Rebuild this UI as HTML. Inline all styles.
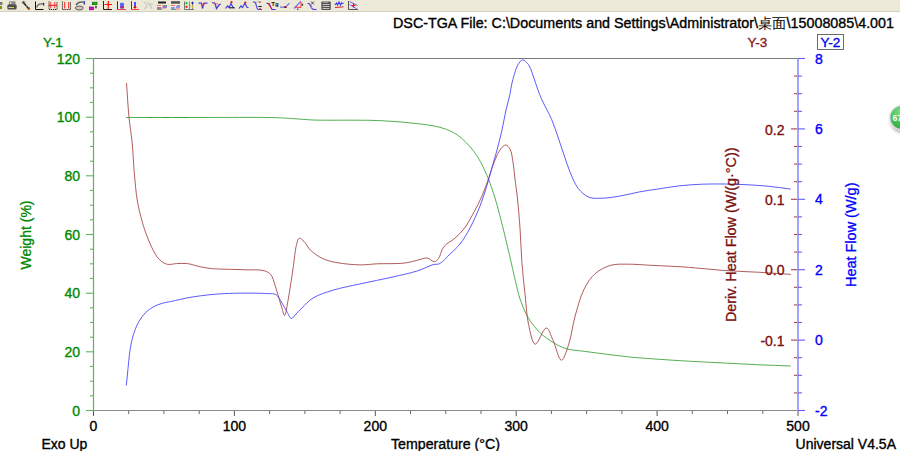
<!DOCTYPE html>
<html><head><meta charset="utf-8"><style>
html,body{margin:0;padding:0;background:#fff;width:900px;height:451px;overflow:hidden}
svg{display:block;font-family:"Liberation Sans",sans-serif}
</style></head><body>
<svg width="900" height="451" viewBox="0 0 900 451">
<rect x="0" y="0" width="900" height="12" fill="#ECE9D8"/>
<rect x="0" y="11" width="900" height="1" fill="#D6D2C2"/>
<rect x="0" y="2" width="2.4" height="3" fill="#777"/><rect x="0" y="6" width="2" height="3" fill="#8a8a10"/>
<rect x="9" y="1.3" width="6.5" height="3.2" fill="#8a8a8a"/><rect x="10" y="2" width="1.2" height="2" fill="#ddd"/>
<rect x="7.3" y="4.3" width="9.4" height="5.2" rx="1.6" fill="#505050"/><rect x="8.5" y="7" width="5.5" height="1" fill="#c8c8c0"/><rect x="11" y="7" width="2" height="1" fill="#e0e000"/>
<line x1="23" y1="2" x2="28.5" y2="8.5" stroke="#222" stroke-width="1.6"/><circle cx="23.5" cy="2.5" r="1.2" fill="none" stroke="#666" stroke-width="0.8"/><circle cx="28.8" cy="8.6" r="1.4" fill="#b05010"/><circle cx="26.4" cy="6" r="0.5" fill="#fff"/>
<path d="M35.5,1.5 V9.5 H43.5" fill="none" stroke="#111" stroke-width="1"/><path d="M36.5,7.5 Q38,4 40,4 L43,3.8" fill="none" stroke="#777" stroke-width="1.4"/><rect x="43" y="2.8" width="1.2" height="2.8" fill="#2020a0"/>
<path d="M49,1.5 V9.5 H57 V1.5" fill="none" stroke="#222" stroke-width="1" stroke-dasharray="1.2,0.8"/><rect x="48.5" y="4.8" width="8.5" height="1.1" fill="#ff1010"/><rect x="50.2" y="2" width="1" height="6.3" fill="#ff4040"/><rect x="54.2" y="2" width="1" height="6.3" fill="#ff4040"/>
<path d="M62.5,1.5 V9.5 H70.5 V1.5" fill="none" stroke="#222" stroke-width="1" stroke-dasharray="1.2,0.8"/><rect x="64.2" y="2" width="1" height="6.5" fill="#ff2020"/><rect x="68.2" y="2" width="1" height="6.5" fill="#ff2020"/>
<path d="M76,5 Q78,1.5 83,2" fill="none" stroke="#666" stroke-width="1.6"/><rect x="83.5" y="1" width="1.4" height="3.5" fill="#2a2aa0"/><ellipse cx="79.3" cy="8" rx="4" ry="2" fill="#d8c0c0" stroke="#555" stroke-width="0.9"/>
<rect x="92.5" y="2.2" width="4.5" height="2.5" fill="#10c010" stroke="#005000" stroke-width="0.6"/><rect x="89.3" y="7" width="4.3" height="2.8" fill="#e010c0" stroke="#600060" stroke-width="0.6"/><rect x="95.3" y="5.8" width="1.3" height="2.5" fill="#222"/>
<path d="M103.5,1 V9.5 H112" fill="none" stroke="#222" stroke-width="1"/><path d="M104.5,4.5 H112 M108.3,1 V9" stroke="#ff1010" stroke-width="1.2"/><circle cx="108.3" cy="4.5" r="1" fill="#ff1010"/>
<rect x="117" y="1.2" width="1" height="8" fill="#333"/><rect x="120" y="2.8" width="4" height="6" rx="1" fill="#6060ff"/><rect x="120.8" y="6.5" width="2.6" height="1.4" fill="#e01010"/><rect x="117" y="9.2" width="9" height="0.8" fill="#ff2020"/>
<rect x="131" y="1.2" width="1" height="8" fill="#444"/><rect x="134" y="2" width="2" height="6" fill="#5050ff"/><circle cx="135" cy="7.3" r="1.3" fill="#e01010"/><rect x="131" y="9.2" width="8" height="0.8" fill="#ff2020"/>
<path d="M144,2.5 Q147,2.5 147,5.5 Q147,8.5 144,8.5 M148,2 Q150,5 152,9 M149.5,5 Q151,3 153,4.5" fill="none" stroke="#c0c0b8" stroke-width="1"/>
<rect x="158" y="1.5" width="8" height="2" fill="#222"/><path d="M157,5.5 H161 M157,8 H166 M162,6 H167" stroke="#ff6060" stroke-width="0.9"/><path d="M157,8 H161 M163,7 H167" stroke="#4040ff" stroke-width="1"/><path d="M157,9.5 H162 M163,5.5 H167" stroke="#60b060" stroke-width="1"/>
<rect x="171" y="1.2" width="9" height="2.5" fill="#555"/><path d="M171,5.5 H175 M176,9 H180" stroke="#ff6060" stroke-width="0.9"/><path d="M171,8 H175 M176,7 H180" stroke="#4040ff" stroke-width="1"/><path d="M171,9.5 H176 M177,5.5 H180" stroke="#60b060" stroke-width="1"/>
<path d="M184.5,1.5 V9.5 H194" fill="none" stroke="#777" stroke-width="1"/><rect x="189.2" y="1.5" width="0.7" height="8" fill="#666"/><rect x="192.2" y="1.5" width="0.7" height="8" fill="#666"/><circle cx="186.5" cy="3.2" r="1.1" fill="#10c010"/><circle cx="186.5" cy="6.8" r="1.1" fill="#e01010"/><circle cx="189.5" cy="5.5" r="1" fill="#a0a000"/><circle cx="192.5" cy="3" r="1.1" fill="#1010d0"/><circle cx="192.5" cy="7" r="1.1" fill="#d0c020"/>
<path d="M198.5,3.2 H201.5 L202.5,8.5 L204,3.2 H207.5" fill="none" stroke="#4040e0" stroke-width="1.3"/><path d="M201.5,3 L203.2,6 L204.5,3" fill="none" stroke="#ff3030" stroke-width="0.9"/>
<path d="M212,2.5 L215,3.5 L216.5,8.5 L219,5 L220.8,4" fill="none" stroke="#4040e0" stroke-width="1.3"/><path d="M213,2.3 L216,3.5 L218.5,4.5" fill="none" stroke="#ff5050" stroke-width="0.9"/>
<path d="M225.5,8.5 L227.5,6 L229,7.5 L231,3.5 L233,7.5 L234.5,8" fill="none" stroke="#4040e0" stroke-width="1.2"/><rect x="229" y="7.3" width="5.5" height="1" fill="#111"/><circle cx="231.5" cy="2.2" r="1.1" fill="#ff1010"/>
<path d="M239,8.5 L241,6 L242.5,7.5 L245,3 L247,7.5 L248.5,7.5" fill="none" stroke="#4040e0" stroke-width="1.2"/><circle cx="245.3" cy="2.5" r="1.1" fill="#ff1010"/>
<path d="M253,1.8 L255.5,2.5 L257,8 L258,9.5 L262,9.5" fill="none" stroke="#5050f0" stroke-width="1.2"/><rect x="256.5" y="1.2" width="5" height="1" fill="#bbb"/><rect x="258.3" y="6" width="3.5" height="1" fill="#222"/><circle cx="259.8" cy="2.3" r="0.8" fill="#ff2020"/><circle cx="260" cy="8.6" r="0.8" fill="#ff2020"/>
<path d="M266.5,3.5 L269,3.5 L272,9.5 L275.5,9.5" fill="none" stroke="#3030e0" stroke-width="1.2"/><path d="M267.5,2.5 L271,8.5" stroke="#ff3030" stroke-width="1"/><text x="271.3" y="6" font-size="6" font-weight="bold" fill="#111">Tg</text>
<path d="M280,7.2 H285.5 L289.5,3.2" fill="none" stroke="#7070e0" stroke-width="1.2"/><path d="M284,7 L287,7.5" stroke="#ff3030" stroke-width="0.8"/><circle cx="285.3" cy="7.2" r="0.9" fill="#222"/>
<path d="M294,8.5 L301,1.2" stroke="#7070f0" stroke-width="1.2"/><path d="M295,7.3 H301 V2" fill="none" stroke="#ff3030" stroke-width="1"/><rect x="297" y="8.5" width="1.4" height="1.4" fill="#444"/><rect x="301.8" y="3.8" width="1.3" height="1.8" fill="#222"/>
<path d="M307.5,3.2 L309.5,4 L312,8.5 L313.5,9.5 L316.5,9.5" fill="none" stroke="#4040e8" stroke-width="1.2"/><path d="M311,1.5 L314,4.5 M314,1.5 L311,4.5" stroke="#222" stroke-width="0.8"/><path d="M311.3,5 L311.5,8.5" stroke="#ff6060" stroke-width="0.8"/>
<rect x="321.3" y="1.5" width="9.5" height="8.5" rx="1" fill="#555"/><rect x="322.5" y="4" width="7" height="0.8" fill="#ddd"/><rect x="322.5" y="6" width="7" height="0.8" fill="#ddd"/><rect x="322.5" y="8" width="7" height="0.8" fill="#ddd"/><rect x="323" y="2.2" width="5" height="0.8" fill="#aaa"/>
<path d="M335,5 L336.5,3 L337.5,5 L339,2 L340.5,5 L341.5,3 L343.5,3.5" fill="none" stroke="#3030f0" stroke-width="1.1"/><path d="M335,7.5 L343.5,6.8" stroke="#e02020" stroke-width="1"/>
<path d="M348.5,1 V9.5 H358" fill="none" stroke="#555" stroke-width="1"/><path d="M349.5,1.5 L357.5,5.5 M349.5,4.5 L357,9" stroke="#6060f0" stroke-width="0.9"/><path d="M353.5,3.5 V7.5 M351.5,5.5 H355.5" stroke="#ff1010" stroke-width="1.2"/>
<line x1="93" y1="58.5" x2="798" y2="58.5" stroke="#7a7a7a" stroke-width="1"/>
<line x1="93" y1="410.5" x2="798" y2="410.5" stroke="#8a8a8a" stroke-width="1.2"/>
<line x1="93.5" y1="58" x2="93.5" y2="411" stroke="#5fb35f" stroke-width="1.2"/>
<line x1="86" y1="410.5" x2="93" y2="410.5" stroke="#5fb35f" stroke-width="1.1"/>
<line x1="90" y1="395.8" x2="93" y2="395.8" stroke="#5fb35f" stroke-width="1.1"/>
<line x1="90" y1="381.2" x2="93" y2="381.2" stroke="#5fb35f" stroke-width="1.1"/>
<line x1="90" y1="366.5" x2="93" y2="366.5" stroke="#5fb35f" stroke-width="1.1"/>
<line x1="86" y1="351.8" x2="93" y2="351.8" stroke="#5fb35f" stroke-width="1.1"/>
<line x1="90" y1="337.2" x2="93" y2="337.2" stroke="#5fb35f" stroke-width="1.1"/>
<line x1="90" y1="322.5" x2="93" y2="322.5" stroke="#5fb35f" stroke-width="1.1"/>
<line x1="90" y1="307.8" x2="93" y2="307.8" stroke="#5fb35f" stroke-width="1.1"/>
<line x1="86" y1="293.2" x2="93" y2="293.2" stroke="#5fb35f" stroke-width="1.1"/>
<line x1="90" y1="278.5" x2="93" y2="278.5" stroke="#5fb35f" stroke-width="1.1"/>
<line x1="90" y1="263.8" x2="93" y2="263.8" stroke="#5fb35f" stroke-width="1.1"/>
<line x1="90" y1="249.2" x2="93" y2="249.2" stroke="#5fb35f" stroke-width="1.1"/>
<line x1="86" y1="234.5" x2="93" y2="234.5" stroke="#5fb35f" stroke-width="1.1"/>
<line x1="90" y1="219.8" x2="93" y2="219.8" stroke="#5fb35f" stroke-width="1.1"/>
<line x1="90" y1="205.2" x2="93" y2="205.2" stroke="#5fb35f" stroke-width="1.1"/>
<line x1="90" y1="190.5" x2="93" y2="190.5" stroke="#5fb35f" stroke-width="1.1"/>
<line x1="86" y1="175.8" x2="93" y2="175.8" stroke="#5fb35f" stroke-width="1.1"/>
<line x1="90" y1="161.2" x2="93" y2="161.2" stroke="#5fb35f" stroke-width="1.1"/>
<line x1="90" y1="146.5" x2="93" y2="146.5" stroke="#5fb35f" stroke-width="1.1"/>
<line x1="90" y1="131.8" x2="93" y2="131.8" stroke="#5fb35f" stroke-width="1.1"/>
<line x1="86" y1="117.2" x2="93" y2="117.2" stroke="#5fb35f" stroke-width="1.1"/>
<line x1="90" y1="102.5" x2="93" y2="102.5" stroke="#5fb35f" stroke-width="1.1"/>
<line x1="90" y1="87.8" x2="93" y2="87.8" stroke="#5fb35f" stroke-width="1.1"/>
<line x1="90" y1="73.2" x2="93" y2="73.2" stroke="#5fb35f" stroke-width="1.1"/>
<line x1="86" y1="58.5" x2="93" y2="58.5" stroke="#5fb35f" stroke-width="1.1"/>
<line x1="93.5" y1="411" x2="93.5" y2="416" stroke="#555" stroke-width="1"/>
<line x1="128.7" y1="411" x2="128.7" y2="414" stroke="#666" stroke-width="1"/>
<line x1="163.9" y1="411" x2="163.9" y2="414" stroke="#666" stroke-width="1"/>
<line x1="199.2" y1="411" x2="199.2" y2="414" stroke="#666" stroke-width="1"/>
<line x1="234.4" y1="411" x2="234.4" y2="416" stroke="#555" stroke-width="1"/>
<line x1="269.6" y1="411" x2="269.6" y2="414" stroke="#666" stroke-width="1"/>
<line x1="304.9" y1="411" x2="304.9" y2="414" stroke="#666" stroke-width="1"/>
<line x1="340.1" y1="411" x2="340.1" y2="414" stroke="#666" stroke-width="1"/>
<line x1="375.3" y1="411" x2="375.3" y2="416" stroke="#555" stroke-width="1"/>
<line x1="410.5" y1="411" x2="410.5" y2="414" stroke="#666" stroke-width="1"/>
<line x1="445.8" y1="411" x2="445.8" y2="414" stroke="#666" stroke-width="1"/>
<line x1="481.0" y1="411" x2="481.0" y2="414" stroke="#666" stroke-width="1"/>
<line x1="516.2" y1="411" x2="516.2" y2="416" stroke="#555" stroke-width="1"/>
<line x1="551.4" y1="411" x2="551.4" y2="414" stroke="#666" stroke-width="1"/>
<line x1="586.6" y1="411" x2="586.6" y2="414" stroke="#666" stroke-width="1"/>
<line x1="621.9" y1="411" x2="621.9" y2="414" stroke="#666" stroke-width="1"/>
<line x1="657.1" y1="411" x2="657.1" y2="416" stroke="#555" stroke-width="1"/>
<line x1="692.3" y1="411" x2="692.3" y2="414" stroke="#666" stroke-width="1"/>
<line x1="727.5" y1="411" x2="727.5" y2="414" stroke="#666" stroke-width="1"/>
<line x1="762.8" y1="411" x2="762.8" y2="414" stroke="#666" stroke-width="1"/>
<line x1="798.0" y1="411" x2="798.0" y2="416" stroke="#555" stroke-width="1"/>
<rect x="797" y="58" width="2" height="353" fill="#a4a4ff"/>
<line x1="798" y1="410.5" x2="805" y2="410.5" stroke="#5a5aff" stroke-width="1.1"/>
<line x1="798" y1="392.9" x2="802" y2="392.9" stroke="#5a5aff" stroke-width="1.1"/>
<line x1="794" y1="392.9" x2="797" y2="392.9" stroke="#a84040" stroke-width="1.1"/>
<line x1="798" y1="375.3" x2="802" y2="375.3" stroke="#5a5aff" stroke-width="1.1"/>
<line x1="794" y1="375.3" x2="797" y2="375.3" stroke="#a84040" stroke-width="1.1"/>
<line x1="798" y1="357.7" x2="802" y2="357.7" stroke="#5a5aff" stroke-width="1.1"/>
<line x1="794" y1="357.7" x2="797" y2="357.7" stroke="#a84040" stroke-width="1.1"/>
<line x1="798" y1="340.1" x2="805" y2="340.1" stroke="#5a5aff" stroke-width="1.1"/>
<line x1="791" y1="340.1" x2="797" y2="340.1" stroke="#a84040" stroke-width="1.1"/>
<line x1="798" y1="322.5" x2="802" y2="322.5" stroke="#5a5aff" stroke-width="1.1"/>
<line x1="794" y1="322.5" x2="797" y2="322.5" stroke="#a84040" stroke-width="1.1"/>
<line x1="798" y1="304.9" x2="802" y2="304.9" stroke="#5a5aff" stroke-width="1.1"/>
<line x1="794" y1="304.9" x2="797" y2="304.9" stroke="#a84040" stroke-width="1.1"/>
<line x1="798" y1="287.3" x2="802" y2="287.3" stroke="#5a5aff" stroke-width="1.1"/>
<line x1="794" y1="287.3" x2="797" y2="287.3" stroke="#a84040" stroke-width="1.1"/>
<line x1="798" y1="269.7" x2="805" y2="269.7" stroke="#5a5aff" stroke-width="1.1"/>
<line x1="791" y1="269.7" x2="797" y2="269.7" stroke="#a84040" stroke-width="1.1"/>
<line x1="798" y1="252.1" x2="802" y2="252.1" stroke="#5a5aff" stroke-width="1.1"/>
<line x1="794" y1="252.1" x2="797" y2="252.1" stroke="#a84040" stroke-width="1.1"/>
<line x1="798" y1="234.5" x2="802" y2="234.5" stroke="#5a5aff" stroke-width="1.1"/>
<line x1="794" y1="234.5" x2="797" y2="234.5" stroke="#a84040" stroke-width="1.1"/>
<line x1="798" y1="216.9" x2="802" y2="216.9" stroke="#5a5aff" stroke-width="1.1"/>
<line x1="794" y1="216.9" x2="797" y2="216.9" stroke="#a84040" stroke-width="1.1"/>
<line x1="798" y1="199.3" x2="805" y2="199.3" stroke="#5a5aff" stroke-width="1.1"/>
<line x1="791" y1="199.3" x2="797" y2="199.3" stroke="#a84040" stroke-width="1.1"/>
<line x1="798" y1="181.7" x2="802" y2="181.7" stroke="#5a5aff" stroke-width="1.1"/>
<line x1="794" y1="181.7" x2="797" y2="181.7" stroke="#a84040" stroke-width="1.1"/>
<line x1="798" y1="164.1" x2="802" y2="164.1" stroke="#5a5aff" stroke-width="1.1"/>
<line x1="794" y1="164.1" x2="797" y2="164.1" stroke="#a84040" stroke-width="1.1"/>
<line x1="798" y1="146.5" x2="802" y2="146.5" stroke="#5a5aff" stroke-width="1.1"/>
<line x1="794" y1="146.5" x2="797" y2="146.5" stroke="#a84040" stroke-width="1.1"/>
<line x1="798" y1="128.9" x2="805" y2="128.9" stroke="#5a5aff" stroke-width="1.1"/>
<line x1="791" y1="128.9" x2="797" y2="128.9" stroke="#a84040" stroke-width="1.1"/>
<line x1="798" y1="111.3" x2="802" y2="111.3" stroke="#5a5aff" stroke-width="1.1"/>
<line x1="794" y1="111.3" x2="797" y2="111.3" stroke="#a84040" stroke-width="1.1"/>
<line x1="798" y1="93.7" x2="802" y2="93.7" stroke="#5a5aff" stroke-width="1.1"/>
<line x1="794" y1="93.7" x2="797" y2="93.7" stroke="#a84040" stroke-width="1.1"/>
<line x1="798" y1="76.1" x2="802" y2="76.1" stroke="#5a5aff" stroke-width="1.1"/>
<line x1="794" y1="76.1" x2="797" y2="76.1" stroke="#a84040" stroke-width="1.1"/>
<line x1="798" y1="58.5" x2="805" y2="58.5" stroke="#5a5aff" stroke-width="1.1"/>
<line x1="147.6" y1="117.5" x2="152.9" y2="117.5" stroke="#1f7a1f" stroke-width="1"/>
<line x1="161.8" y1="117.5" x2="168.9" y2="117.5" stroke="#1f7a1f" stroke-width="1"/>
<line x1="173.8" y1="117.5" x2="188.9" y2="117.5" stroke="#1f7a1f" stroke-width="1"/>
<path d="M126.00,117.50 C150.67,117.50 175.42,117.48 200.00,117.50 C224.42,117.52 256.28,117.17 273.00,117.60 C281.76,117.82 286.34,118.20 293.00,118.60 C299.67,119.00 305.18,119.71 313.00,120.00 C324.04,120.41 341.95,120.12 353.00,120.20 C360.81,120.26 366.34,120.20 373.00,120.40 C379.67,120.60 386.34,120.93 393.00,121.40 C399.67,121.87 406.34,122.47 413.00,123.20 C419.67,123.93 427.04,124.63 433.00,125.80 C437.92,126.76 442.18,127.74 446.30,129.30 C450.14,130.76 453.68,132.48 457.00,134.70 C460.36,136.94 463.42,139.82 466.30,142.70 C469.18,145.58 471.86,148.69 474.30,152.00 C476.77,155.35 478.85,158.70 481.00,162.70 C483.54,167.43 486.04,173.06 488.30,178.70 C490.74,184.78 492.80,190.81 495.00,198.00 C497.71,206.86 500.62,218.62 503.00,228.00 C505.09,236.24 506.61,242.83 508.60,251.30 C510.98,261.43 514.21,276.09 516.30,284.70 C517.62,290.15 518.07,293.21 519.70,298.00 C521.73,303.95 524.63,311.63 528.10,317.50 C531.37,323.03 535.39,328.16 539.70,332.40 C543.74,336.38 548.42,339.63 553.00,342.40 C557.31,345.00 561.42,347.23 566.30,348.70 C571.69,350.33 577.84,350.43 584.10,351.30 C591.09,352.27 598.89,353.27 606.30,354.20 C613.72,355.13 621.17,356.15 628.60,356.90 C636.00,357.65 642.42,358.08 650.80,358.70 C661.73,359.50 676.19,360.48 688.60,361.20 C700.62,361.90 712.26,362.40 724.10,363.00 C735.96,363.60 748.23,364.29 759.70,364.80 C770.42,365.28 780.43,365.60 790.80,366.00" fill="none" stroke="#3ea63e" stroke-width="0.9"/>
<path d="M126.50,83.00 C127.33,94.43 127.96,106.80 129.00,117.30 C129.88,126.25 131.24,133.35 132.10,142.10 C133.06,151.87 133.38,163.12 134.30,173.20 C135.17,182.76 135.91,192.47 137.40,201.10 C138.71,208.72 140.60,216.08 142.40,222.40 C143.88,227.59 145.30,231.77 147.10,236.40 C148.93,241.11 151.04,246.29 153.30,250.40 C155.23,253.91 157.00,257.33 159.50,259.70 C161.75,261.83 164.47,263.64 167.30,264.30 C170.17,264.97 173.37,263.72 176.60,263.60 C180.09,263.47 183.78,263.14 187.50,263.60 C191.53,264.10 195.75,265.85 199.90,266.70 C204.02,267.54 207.82,268.26 212.30,268.70 C217.53,269.21 223.72,269.12 229.40,269.30 C235.05,269.48 240.59,269.57 246.30,269.80 C252.16,270.03 259.71,269.37 264.10,270.70 C267.01,271.58 269.04,272.63 270.80,274.70 C272.98,277.27 273.68,281.43 275.20,285.80 C277.32,291.89 280.11,302.58 281.90,308.00 C282.95,311.18 283.74,315.55 284.60,315.50 C285.80,315.43 286.86,306.45 288.00,300.50 C289.65,291.91 291.49,278.68 293.00,268.80 C294.32,260.14 295.06,249.79 296.60,244.40 C297.41,241.58 297.98,238.57 299.30,238.20 C300.51,237.86 302.43,239.98 304.00,241.50 C306.16,243.60 307.71,247.53 310.50,250.20 C313.78,253.35 318.46,256.63 322.90,258.70 C327.27,260.74 331.59,261.61 336.90,262.60 C343.64,263.86 353.04,264.78 360.20,264.90 C366.31,265.00 370.88,264.09 377.20,263.80 C385.14,263.44 396.73,263.99 404.10,263.10 C409.34,262.47 413.31,261.11 417.40,260.20 C420.92,259.42 424.25,257.62 427.20,258.00 C429.85,258.34 432.39,261.89 434.40,261.70 C436.01,261.55 437.29,260.08 438.50,258.50 C440.27,256.19 441.16,250.90 442.80,248.30 C443.99,246.41 445.20,245.18 446.70,243.90 C448.25,242.57 450.12,241.94 452.00,240.50 C454.46,238.62 457.61,235.80 460.00,233.30 C462.24,230.96 463.98,228.93 466.00,226.00 C468.64,222.18 471.40,216.86 474.00,212.00 C476.74,206.88 479.65,201.40 482.00,196.00 C484.30,190.73 485.95,185.64 488.00,180.00 C490.28,173.72 492.69,165.46 495.00,160.00 C496.68,156.03 498.00,152.62 500.00,150.00 C501.64,147.85 503.85,144.99 505.60,145.00 C507.16,145.01 508.85,147.04 510.00,149.00 C511.72,151.93 512.19,157.35 513.00,162.00 C513.91,167.26 514.29,173.18 515.00,179.00 C515.75,185.16 516.65,190.94 517.40,198.00 C518.34,206.85 519.27,217.65 520.00,228.00 C520.79,239.07 521.02,251.03 521.90,262.40 C522.76,273.62 524.04,285.07 525.20,295.80 C526.28,305.79 526.66,316.10 528.60,324.70 C530.23,331.93 532.20,343.79 535.20,344.20 C538.13,344.60 543.17,327.85 546.30,328.00 C548.94,328.13 550.76,335.57 553.00,340.20 C555.79,345.98 558.65,360.15 561.40,360.20 C563.84,360.25 566.51,350.79 568.60,344.70 C571.35,336.67 572.57,325.18 575.20,315.80 C577.76,306.66 580.29,296.56 584.10,289.10 C587.23,282.96 590.63,277.60 595.20,273.60 C599.60,269.75 605.25,266.87 610.80,265.30 C616.38,263.72 622.34,264.24 628.60,264.20 C635.59,264.16 642.42,264.87 650.80,265.30 C661.73,265.86 676.21,266.41 688.60,267.30 C700.63,268.16 712.25,269.67 724.10,270.50 C735.95,271.33 748.24,271.62 759.70,272.30 C770.42,272.93 780.43,273.70 790.80,274.40" fill="none" stroke="#a84848" stroke-width="0.9"/>
<path d="M126.30,385.50 C126.87,379.90 127.45,374.11 128.00,368.70 C128.51,363.64 128.87,358.71 129.50,354.00 C130.09,349.60 130.68,345.31 131.60,341.30 C132.45,337.61 133.45,334.17 134.70,330.80 C135.92,327.51 137.24,324.28 139.00,321.30 C140.77,318.31 142.85,315.35 145.30,312.90 C147.75,310.45 150.78,308.21 153.70,306.60 C156.40,305.11 159.24,304.25 162.10,303.40 C164.94,302.55 167.23,302.26 170.80,301.50 C176.50,300.29 184.94,298.16 193.00,296.90 C202.46,295.42 212.83,294.20 224.10,293.60 C237.46,292.89 259.29,293.05 268.00,293.60 C271.71,293.83 273.66,293.28 275.90,294.60 C278.45,296.11 280.16,300.14 282.00,303.00 C283.78,305.78 285.16,308.83 286.80,311.50 C288.33,313.98 289.85,318.34 291.50,318.50 C292.94,318.64 294.40,315.61 296.00,314.00 C297.84,312.15 299.59,310.22 301.90,308.00 C304.98,305.05 308.45,300.80 313.00,298.00 C318.45,294.64 325.77,292.44 333.00,290.20 C341.17,287.67 350.30,286.09 359.70,284.00 C370.18,281.67 382.78,279.25 393.00,276.90 C401.78,274.88 410.24,273.19 417.40,270.90 C423.25,269.03 428.83,265.86 433.00,264.70 C435.65,263.96 437.40,264.73 439.70,263.60 C443.01,261.98 446.62,257.26 450.00,254.00 C453.39,250.73 456.87,247.93 460.00,244.00 C463.61,239.46 466.85,233.87 470.00,228.00 C473.57,221.36 477.03,213.57 480.00,206.00 C483.04,198.25 485.81,189.22 488.00,182.00 C489.78,176.15 490.90,171.33 492.40,166.00 C493.90,160.66 495.48,155.64 497.00,150.00 C498.69,143.72 500.50,136.68 502.00,130.00 C503.50,123.35 504.59,116.22 506.00,110.00 C507.24,104.51 508.91,99.24 509.90,94.60 C510.70,90.84 510.96,87.67 511.70,84.30 C512.43,81.00 513.28,77.82 514.30,74.60 C515.34,71.32 516.26,67.37 517.90,64.80 C519.24,62.71 521.06,59.97 522.80,59.90 C524.62,59.82 527.07,62.75 528.60,64.80 C530.24,66.99 530.98,69.92 532.10,72.80 C533.36,76.06 534.45,79.82 535.70,83.40 C536.98,87.09 538.30,91.13 539.70,94.60 C540.95,97.71 542.03,99.98 543.60,103.30 C545.75,107.85 549.20,113.69 551.60,119.30 C554.13,125.20 556.23,131.93 558.30,137.90 C560.21,143.40 561.71,148.30 563.60,153.80 C565.65,159.77 567.69,166.51 570.20,172.40 C572.59,178.01 574.80,184.13 578.20,188.40 C581.20,192.16 584.86,195.58 588.90,197.20 C592.85,198.79 597.32,198.31 602.10,198.20 C607.80,198.07 614.60,196.95 620.80,195.90 C627.03,194.85 633.23,193.04 639.40,191.90 C645.43,190.78 651.08,190.06 657.40,189.10 C664.43,188.03 672.25,186.62 679.70,185.80 C687.12,184.99 694.59,184.50 702.00,184.20 C709.35,183.90 716.67,183.92 724.00,184.00 C731.33,184.08 738.67,184.33 746.00,184.70 C753.34,185.07 760.61,185.48 768.00,186.20 C775.54,186.94 783.20,188.13 790.80,189.10" fill="none" stroke="#4a4aff" stroke-width="0.9"/>
<text x="393.0" y="27.5" fill="#000" stroke="#000" stroke-width="0.35" font-size="14" text-anchor="start" textLength="501" lengthAdjust="spacingAndGlyphs">DSC-TGA File: C:\Documents and Settings\Administrator\<tspan stroke-width='0'>桌面</tspan>\15008085\4.001</text>
<text x="43.0" y="46.5" fill="#008800" stroke="#008800" stroke-width="0.35" font-size="13.5" text-anchor="start" >Y-1</text>
<text x="747.5" y="46.5" fill="#8a1a1a" stroke="#8a1a1a" stroke-width="0.35" font-size="13.5" text-anchor="start" >Y-3</text>
<rect x="817.5" y="34.5" width="26" height="15" fill="none" stroke="#6a6a6a" stroke-width="1"/>
<text x="820.5" y="46.5" fill="#0000ee" stroke="#0000ee" stroke-width="0.35" font-size="13.5" text-anchor="start" >Y-2</text>
<text x="80.0" y="415.5" fill="#008800" stroke="#008800" stroke-width="0.35" font-size="14" text-anchor="end" >0</text>
<text x="80.0" y="356.8" fill="#008800" stroke="#008800" stroke-width="0.35" font-size="14" text-anchor="end" >20</text>
<text x="80.0" y="298.2" fill="#008800" stroke="#008800" stroke-width="0.35" font-size="14" text-anchor="end" >40</text>
<text x="80.0" y="239.5" fill="#008800" stroke="#008800" stroke-width="0.35" font-size="14" text-anchor="end" >60</text>
<text x="80.0" y="180.8" fill="#008800" stroke="#008800" stroke-width="0.35" font-size="14" text-anchor="end" >80</text>
<text x="80.0" y="122.2" fill="#008800" stroke="#008800" stroke-width="0.35" font-size="14" text-anchor="end" >100</text>
<text x="80.0" y="63.5" fill="#008800" stroke="#008800" stroke-width="0.35" font-size="14" text-anchor="end" >120</text>
<text x="93.5" y="431.0" fill="#000" stroke="#000" stroke-width="0.35" font-size="14" text-anchor="middle" >0</text>
<text x="234.4" y="431.0" fill="#000" stroke="#000" stroke-width="0.35" font-size="14" text-anchor="middle" >100</text>
<text x="375.3" y="431.0" fill="#000" stroke="#000" stroke-width="0.35" font-size="14" text-anchor="middle" >200</text>
<text x="516.2" y="431.0" fill="#000" stroke="#000" stroke-width="0.35" font-size="14" text-anchor="middle" >300</text>
<text x="657.1" y="431.0" fill="#000" stroke="#000" stroke-width="0.35" font-size="14" text-anchor="middle" >400</text>
<text x="798.0" y="431.0" fill="#000" stroke="#000" stroke-width="0.35" font-size="14" text-anchor="middle" >500</text>
<text x="784.5" y="134.6" fill="#7a1010" stroke="#7a1010" stroke-width="0.35" font-size="14" text-anchor="end" >0.2</text>
<text x="784.5" y="205.0" fill="#7a1010" stroke="#7a1010" stroke-width="0.35" font-size="14" text-anchor="end" >0.1</text>
<text x="784.5" y="275.4" fill="#7a1010" stroke="#7a1010" stroke-width="0.35" font-size="14" text-anchor="end" >0.0</text>
<text x="784.5" y="345.8" fill="#7a1010" stroke="#7a1010" stroke-width="0.35" font-size="14" text-anchor="end" >-0.1</text>
<text x="815.0" y="415.5" fill="#0000ff" stroke="#0000ff" stroke-width="0.35" font-size="14" text-anchor="start" >-2</text>
<text x="815.0" y="345.1" fill="#0000ff" stroke="#0000ff" stroke-width="0.35" font-size="14" text-anchor="start" >0</text>
<text x="815.0" y="274.7" fill="#0000ff" stroke="#0000ff" stroke-width="0.35" font-size="14" text-anchor="start" >2</text>
<text x="815.0" y="204.3" fill="#0000ff" stroke="#0000ff" stroke-width="0.35" font-size="14" text-anchor="start" >4</text>
<text x="815.0" y="133.9" fill="#0000ff" stroke="#0000ff" stroke-width="0.35" font-size="14" text-anchor="start" >6</text>
<text x="815.0" y="63.5" fill="#0000ff" stroke="#0000ff" stroke-width="0.35" font-size="14" text-anchor="start" >8</text>
<text x="41.5" y="448.5" fill="#000" stroke="#000" stroke-width="0.35" font-size="14" text-anchor="start" >Exo Up</text>
<text x="391.0" y="448.5" fill="#000" stroke="#000" stroke-width="0.35" font-size="14" text-anchor="start" textLength="109" lengthAdjust="spacingAndGlyphs">Temperature (°C)</text>
<text x="896.0" y="448.5" fill="#000" stroke="#000" stroke-width="0.35" font-size="14" text-anchor="end" >Universal V4.5A</text>
<text x="0" y="0" fill="#008800" font-size="14" stroke="#008800" stroke-width="0.3" text-anchor="middle" transform="translate(31,235) rotate(-90)">Weight (%)</text>
<text x="0" y="0" fill="#7a1010" font-size="14" text-anchor="middle" stroke="#7a1010" stroke-width="0.3" textLength="174.5" lengthAdjust="spacingAndGlyphs" transform="translate(736,234.8) rotate(-90)">Deriv. Heat Flow (W/(g·°C))</text>
<text x="0" y="0" fill="#0000ff" font-size="14" text-anchor="middle" stroke="#0000ff" stroke-width="0.3" textLength="104.5" lengthAdjust="spacingAndGlyphs" transform="translate(856,234.8) rotate(-90)">Heat Flow (W/g)</text>
<defs><radialGradient id="bg" cx="0.45" cy="0.25" r="0.8"><stop offset="0" stop-color="#7ee08a"/><stop offset="0.55" stop-color="#45c455"/><stop offset="1" stop-color="#2fa63c"/></radialGradient><filter id="sh" x="-50%" y="-50%" width="200%" height="200%"><feGaussianBlur stdDeviation="1.5"/></filter></defs>
<circle cx="903.5" cy="120" r="13.5" fill="#999" filter="url(#sh)" opacity="0.7"/>
<circle cx="902" cy="117.6" r="13" fill="#f0f0f0"/>
<circle cx="902" cy="117.6" r="11.8" fill="url(#bg)" stroke="#c4c4c4" stroke-width="0.8"/>
<text x="892.5" y="120.5" fill="#fff" font-size="8.5" font-weight="bold">67</text>
</svg></body></html>
